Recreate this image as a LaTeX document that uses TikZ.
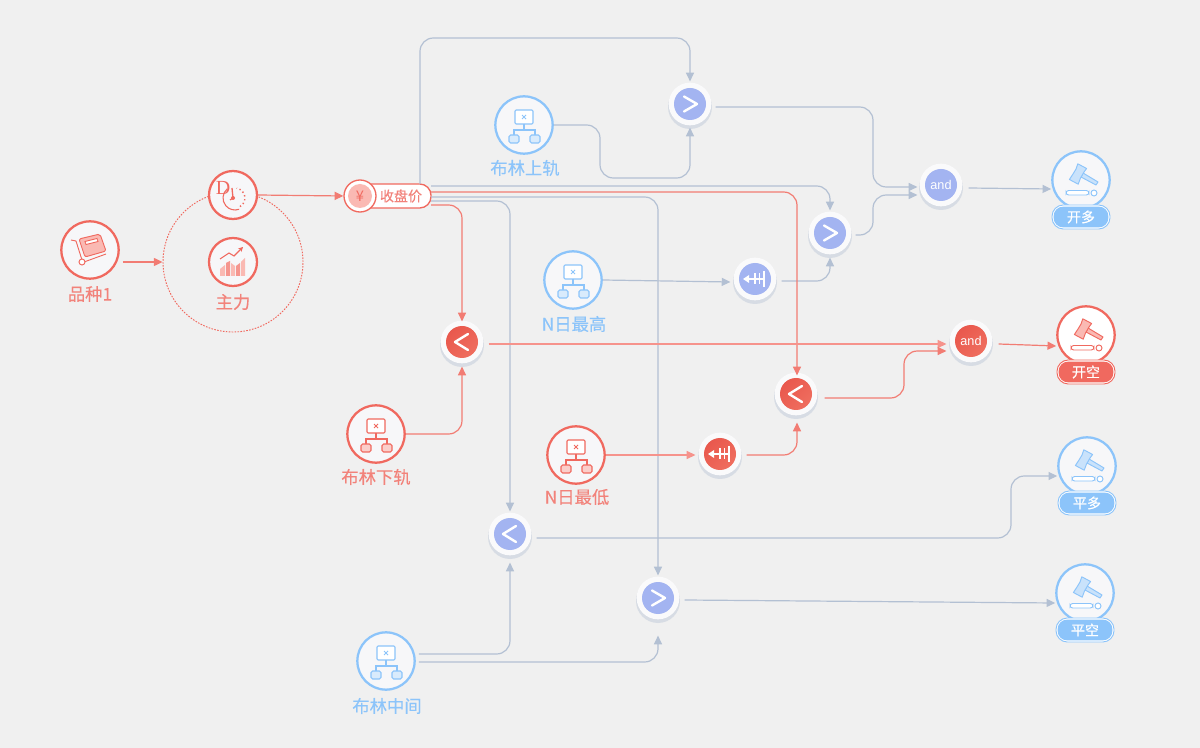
\documentclass[tikz,border=0pt]{standalone}
\usepackage{fontspec}
\setmainfont{Noto Sans CJK SC}
\newfontfamily\medf[FakeBold=0.25]{Noto Sans CJK SC}
\newfontfamily\latinf{Liberation Sans}
\newfontfamily\serf{Liberation Serif}
\usetikzlibrary{arrows.meta,calc}
\definecolor{bgc}{HTML}{F0F0F0}
\definecolor{redc}{HTML}{F0695F}
\definecolor{rede}{HTML}{F27C73}
\definecolor{redp}{HTML}{F6938C}
\definecolor{redt}{HTML}{F2827A}
\definecolor{redl}{HTML}{FAB9B3}
\definecolor{opred}{HTML}{E9584D}
\definecolor{opredb}{HTML}{EF6E5F}
\definecolor{bluec}{HTML}{8CC4FA}
\definecolor{bluel}{HTML}{C9E2FB}
\definecolor{opblue}{HTML}{A3B4F1}
\definecolor{edgeg}{HTML}{B3C0D3}
\definecolor{inner}{HTML}{F7F7F9}
\definecolor{halo}{HTML}{FAFAFB}
\tikzset{
  x=0.75pt,y=-0.75pt,
  tipa/.style={-{Triangle[length=6.5pt,width=6pt]}},
  gline/.style={draw=edgeg,line width=0.9pt,rounded corners=10pt,tipa},
  rline/.style={draw=rede,line width=0.9pt,rounded corners=10pt,tipa},
  pline/.style={draw=redp,line width=1.1pt,rounded corners=10pt,tipa},
  bignode/.style={circle,draw=#1,line width=1.7pt,fill=inner,minimum size=43pt,inner sep=0pt},
  smallnode/.style={circle,draw=#1,line width=1.7pt,fill=inner,minimum size=36pt,inner sep=0pt},
  opnode/.style={circle,fill=halo,minimum size=32pt,inner sep=0pt},
  lab/.style={font=\medf\fontsize{13}{13}\selectfont,text=#1,inner sep=0pt},
  pilltxt/.style={font=\medf\fontsize{10.5}{10.5}\selectfont,inner sep=0pt},
}
% net icon
\newcommand\neticon[2]{% line colour, fill colour
  \begin{scope}[draw=#1,line width=0.85pt]
    \draw[fill=white,rounded corners=0.8pt] (-9,-15) rectangle (9,-1);
    \draw (0,-1) -- (0,5) (-10,10) -- (-10,5) -- (11,5) -- (11,10);
    \draw[fill=#2!70!white,rounded corners=1.2pt] (-15,10) rectangle (-5,18);
    \draw[fill=#2!70!white,rounded corners=1.2pt] (6,10) rectangle (16,18);
    \draw[line width=0.75pt] (-2,-10) -- (2,-6) (2,-10) -- (-2,-6);
  \end{scope}}
% gavel icon
\newcommand\gavelicon[2]{%
  \begin{scope}[draw=#1,line width=0.7pt]
    \draw[fill=#2,line join=round] (2,-7) -- (17,2) -- (15,5) -- (0,-3) -- cycle;
    \draw[fill=#2,line join=round] (-3.2,-16.2) -- (5.6,-11.5) -- (3,-8) -- (-0.5,-2) -- (-2.8,4.2) -- (-11.6,-0.5) -- (-8,-6) -- (-5,-11) -- cycle;
    \draw[fill=white,rounded corners=2pt] (-15,10.5) rectangle (8,15);
    \draw[fill=white] (13,13) circle (3);
  \end{scope}}
\newcommand\opshadow[2]{\fill[edgeg,opacity=.4] (#1,#2+3) circle (22);}
\newcommand\gtglyph{\draw[white,line width=1.8pt,line cap=round,line join=round] (-6,-7.5) -- (7,0) -- (-6,7.5);}
\newcommand\ltglyph{\draw[white,line width=1.8pt,line cap=round,line join=round] (6,-8) -- (-7,0) -- (6,8);}
\newcommand\shiftglyph{\begin{scope}[white]
  \draw[line width=1.7pt] (9,-8) -- (9,8);
  \draw[line width=1.6pt] (-7,0) -- (9,0);
  \fill (-12,0) -- (-6,-4) -- (-6,4) -- cycle;
  \draw[line width=0.8pt] (0,-5.5) -- (0,5.5) (4.5,-5.5) -- (4.5,5.5);
\end{scope}}
\newcommand\andglyph{\node[font=\latinf\fontsize{9.5}{9.5}\selectfont,text=white,inner sep=0pt] at (0,0) {and};}
\begin{document}
\begin{tikzpicture}
\useasboundingbox[fill=bgc] (0,0) rectangle (1200,748);

% ---------- group circle ----------
\node[circle,draw=redc,dash pattern=on 1.2pt off 1pt,line width=0.7pt,minimum size=105pt,inner sep=0pt] (grp) at (233,262) {};

% ---------- big nodes ----------
\node[bignode=redc] (pz) at (90,250) {};
\node[smallnode=redc] (clock) at (233,195) {};
\node[smallnode=redc] (zl) at (233,262) {};
\node[bignode=bluec] (upper) at (524,125) {};
\node[bignode=bluec] (high) at (573,280) {};
\node[bignode=redc] (lower) at (376,434) {};
\node[bignode=redc] (low) at (576,455) {};
\node[bignode=bluec] (mid) at (386,661) {};

% ---------- operator nodes ----------
\foreach \n/\px/\py in {gta/690/104,gtb/830/233,shb/755/279,anb/941/185,ltr/462/342,ltq/796/394,shr/720/454,anr/971/341,ltb/510/534,gtc/658/598}{
  \opshadow{\px}{\py}
  \node[opnode] (\n) at (\px,\py) {};
}
\foreach \n in {gta,gtb,shb,anb,ltb,gtc}{\fill[opblue] (\n) circle (16);}
\foreach \n in {ltr,ltq,shr,anr}{\shade[left color=opred,right color=opredb,shading angle=45] (\n) circle (16);}
\begin{scope}[shift={(gta)}]\gtglyph\end{scope}
\begin{scope}[shift={(gtb)}]\gtglyph\end{scope}
\begin{scope}[shift={(gtc)}]\gtglyph\end{scope}
\begin{scope}[shift={(ltb)}]\ltglyph\end{scope}
\begin{scope}[shift={(ltr)}]\ltglyph\end{scope}
\begin{scope}[shift={(ltq)}]\ltglyph\end{scope}
\begin{scope}[shift={(shb)}]\shiftglyph\end{scope}
\begin{scope}[shift={(shr)}]\shiftglyph\end{scope}
\begin{scope}[shift={(anb)}]\andglyph\end{scope}
\begin{scope}[shift={(anr)}]\andglyph\end{scope}

% ---------- action nodes ----------
\node[bignode=bluec] (kd) at (1081,180) {};
\node[bignode=redc,fill=white] (kk) at (1086,335) {};
\node[bignode=bluec] (pd) at (1087,466) {};
\node[bignode=bluec] (pk) at (1085,593) {};
\begin{scope}[shift={(kd)}]\gavelicon{bluec}{bluel}\end{scope}
\begin{scope}[shift={(kk)}]\gavelicon{redc}{redl}\end{scope}
\begin{scope}[shift={(pd)}]\gavelicon{bluec}{bluel}\end{scope}
\begin{scope}[shift={(pk)}]\gavelicon{bluec}{bluel}\end{scope}
\foreach \n/\px/\py/\c/\t in {kdl/1081/217/bluec/开多,kkl/1086/372/redc/开空,pdl/1087/503/bluec/平多,pkl/1085/630/bluec/平空}{
  \draw[\c,line width=0.7pt,fill=white,rounded corners=8.5pt] (\px-29,\py-12) rectangle (\px+29,\py+12);
  \node[fill=\c,draw=none,rounded corners=7pt,minimum width=41pt,minimum height=15.5pt,inner sep=0pt,text=white,font=\medf\fontsize{10.5}{10.5}\selectfont] (\n) at (\px,\py) {\t};
}

% ---------- price pill ----------
\draw[redc,line width=1pt,fill=white,rounded corners=8.5pt] (360,184) rectangle (431,208);
\node[circle,draw=redc,fill=white,line width=1pt,minimum size=24pt,inner sep=0pt] (price) at (360,196) {};
\fill[redl] (price) circle (12);
\node[text=redc,font=\fontsize{11}{11}\selectfont,inner sep=0pt] at (price) {¥};
\node[pilltxt,text=redt] (pricel) at (401,196) {收盘价};
\coordinate (pe) at (431,196);

% ---------- connectors ----------
\draw[gline] ($(pe)+(-11,-12)$) -- (420,38) -- (690,38) -- ($(gta.north)+(0,-1)$);
\draw[gline] ($(pe)+(0,-10)$) -- (830,186) -- ($(gtb.north)+(0,-1)$);
\draw[gline] ($(pe)+(0,5)$) -- (510,201) -- ($(ltb.north)+(0,-1)$);
\draw[gline] ($(pe)+(0,1)$) -- (658,197) -- ($(gtc.north)+(0,-1)$);
\draw[gline] (upper.east) -- (600,125) -- (600,178) -- (690,178) -- ($(gta.south)+(0,2)$);
\draw[gline] ($(gta.east)+(4,3)$) -- (873,107) -- (873,187) -- ($(anb.west)+(-2,2)$);
\draw[gline] ($(gtb.east)+(4,2)$) -- (873,235) -- (873,195) -- ($(anb.west)+(-2,10)$);
\draw[gline] (high.east) -- ($(shb.west)+(-3,3)$);
\draw[gline] ($(shb.east)+(5,2)$) -- (830,281) -- ($(gtb.south)+(0,3)$);
\draw[gline] ($(anb.east)+(6,3)$) -- (kd.west |- 189,189);
\draw[gline] ($(ltb.east)+(5,4)$) -- (1011,538) -- (1011,476) -- (pd.west |- 476,476);
\draw[gline] ($(gtc.east)+(5,2)$) -- (pk.west |- 603,603);
\draw[gline] ($(mid.east)+(3,-7)$) -- (510,654) -- ($(ltb.south)+(0,7)$);
\draw[gline] ($(mid.east)+(3,1)$) -- (658,662) -- ($(gtc.south)+(0,16)$);

\draw[rline] ($(pe)+(0,-4)$) -- (797,192) -- ($(ltq.north)+(1,3)$);
\draw[rline] ($(pe)+(0,9)$) -- (462,205) -- ($(ltr.north)+(0,1)$);
\draw[rline] ($(pz.east |- grp.west)+(3,0)$) -- (grp.west);
\draw[rline] (clock.east) -- (price.west);
\draw[rline] (lower.east) -- (462,434) -- ($(ltr.south)+(0,3)$);
\draw[pline] (low.east) -- ($(shr.west)+(-3,1)$);
\draw[rline] ($(shr.east)+(5,1)$) -- (797,455) -- ($(ltq.south)+(1,7)$);
\draw[pline] ($(ltr.east)+(5,2)$) -- ($(anr.west)+(-3,3)$);
\draw[rline] ($(ltq.east)+(7,4)$) -- (904,398) -- (904,351) -- ($(anr.west)+(-3,10)$);
\draw[rline] ($(anr.east)+(6,3)$) -- (kk.west |- 346,346);

% ---------- big-node icons ----------
\begin{scope}[shift={(upper)}]\neticon{bluec}{bluel}\end{scope}
\begin{scope}[shift={(high)}]\neticon{bluec}{bluel}\end{scope}
\begin{scope}[shift={(lower)}]\neticon{redc}{redl}\end{scope}
\begin{scope}[shift={(low)}]\neticon{redc}{redl}\end{scope}
\begin{scope}[shift={(mid)}]\neticon{bluec}{bluel}\end{scope}

% cart
\begin{scope}[shift={(pz)},draw=redc,line width=0.7pt]
  \draw (-19,-10) -- (-14,-9) -- (-8,10) (-6,12) -- (16,4);
  \draw[fill=white] (-8,12) circle (3);
  \draw[fill=redl,rounded corners=1.5pt] (-11,-11) -- (10,-16) -- (16,1) -- (-5,7) -- cycle;
  \draw[fill=white] (-5,-8.5) -- (7,-11.5) -- (8,-8.5) -- (-4,-5.5) -- cycle;
\end{scope}
% clock
\begin{scope}[shift={(clock)},draw=redc,line width=0.8pt]
  \draw (2,3) ++(-130:12) arc[start angle=-130,end angle=-290,radius=12];
  \draw[dash pattern=on 1pt off 2pt,line width=1.1pt] (2,3) ++(60:10) arc[start angle=60,end angle=-80,radius=10];
  \draw[line width=1pt] (-1,-7) -- (0,3);
  \fill[redc] (0,3) circle (2);
  \draw[line width=0.9pt] (0,3) -- (-3,5);
  \node[text=redc,inner sep=0pt,font=\serf\fontsize{15}{15}\selectfont] (dlet) at (-10,-7) {D};
\end{scope}
% chart
\begin{scope}[shift={(zl)},draw=redc,line width=0.8pt]
  \fill[redl] (-13,14) -- (-13,7) -- (-8,3) -- (-8,14) -- cycle;
  \fill[redc!70] (-7,14) -- (-7,1) -- (-3,-1) -- (-3,14) -- cycle;
  \fill[redl] (-2,14) -- (-2,1) -- (2,4) -- (2,14) -- cycle;
  \fill[redc!70] (3,14) -- (3,4) -- (7,1) -- (7,14) -- cycle;
  \fill[redl] (8,14) -- (8,0) -- (12,-4) -- (12,14) -- cycle;
  \draw[-{Stealth[length=3.5pt,width=3.5pt]}] (-13,-3) -- (-4,-9) -- (1,-6) -- (10,-15);
\end{scope}

% ---------- labels ----------
\node[lab=redt] (l1) at (90,294) {品种1};
\node[lab=redt] (l2) at (233,302) {主力};
\node[lab=bluec] (l3) at (525,168) {布林上轨};
\node[lab=bluec] (l4) at (574,324) {N日最高};
\node[lab=redt] (l5) at (376,477) {布林下轨};
\node[lab=redt] (l6) at (577,497) {N日最低};
\node[lab=bluec] (l7) at (387,706) {布林中间};
\end{tikzpicture}
\end{document}
